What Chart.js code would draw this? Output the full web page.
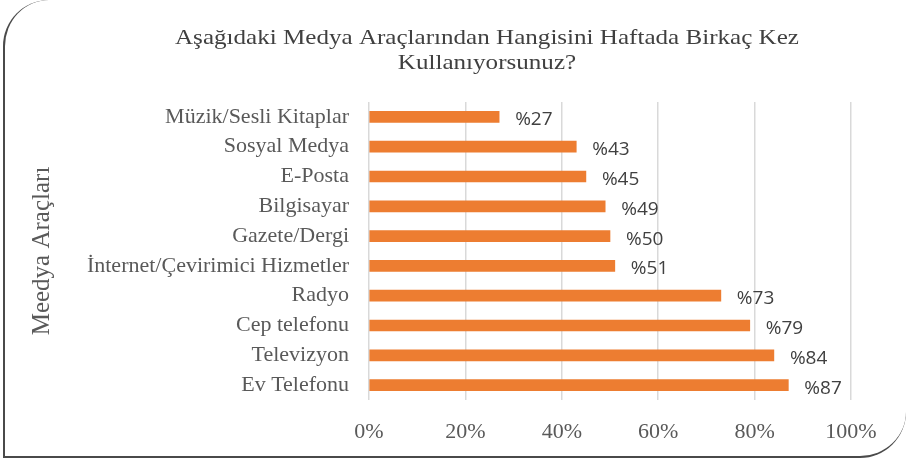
<!DOCTYPE html>
<html>
<head>
<meta charset="utf-8">
<script src="https://cdn.jsdelivr.net/npm/chart.js@4.4.1/dist/chart.umd.min.js"></script>
<style>
    html, body { margin: 0; padding: 0; background: #fff; }
    #wrap { position: relative; width: 907px; height: 464px; overflow: hidden; }
    #frame {
        position: absolute; left: 3px; top: 0; width: 903px; height: 458px;
        border-left: 2px solid #4a4a4a; border-bottom: 2px solid #4a4a4a;
        border-top-left-radius: 46px; border-bottom-right-radius: 46px;
        box-sizing: border-box;
    }
    canvas { position: absolute; left: 0; top: 0; }
</style>
</head>
<body>
<div id="wrap">
    <div id="frame"></div>
    <canvas id="chart" width="907" height="464"></canvas>
</div>
<script>
// chart data
const categories = [
    "Müzik/Sesli Kitaplar", "Sosyal Medya", "E-Posta", "Bilgisayar", "Gazete/Dergi",
    "İnternet/Çevirimici Hizmetler", "Radyo", "Cep telefonu", "Televizyon", "Ev Telefonu"
];
const values = [27, 43, 45, 49, 50, 51, 73, 79, 84, 87];
const xTicks = [0, 20, 40, 60, 80, 100];
const titleLines = ["Aşağıdaki Medya Araçlarından Hangisini Haftada Birkaç Kez", "Kullanıyorsunuz?"];
const axisTitle = "Meedya Araçları";

const serif = "'Liberation Serif', 'Times New Roman', serif";

// title drawn by hand so it can sit off-centre and be a bit wider like the original
const titlePlugin = {
    id: "titleLines",
    afterDraw(chart) {
        let ctx = chart.ctx;
        ctx.save();
        ctx.font = "22px " + serif;
        ctx.fillStyle = "#404040";
        ctx.textAlign = "center";
        ctx.textBaseline = "alphabetic";
        ctx.translate(487, 0);
        ctx.scale(1.14, 1);
        ctx.fillText(titleLines[0], 0, 44);
        ctx.fillText(titleLines[1], 0, 69);
        ctx.restore();
    }
};

const valueLabels = {
    id: "valueLabels",
    afterDatasetsDraw(chart) {
        let ctx = chart.ctx;
        let meta = chart.getDatasetMeta(0);
        ctx.save();
        ctx.font = "19px 'Open Sans', sans-serif";
        ctx.fillStyle = "#404040";
        ctx.textAlign = "left";
        ctx.textBaseline = "middle";
        meta.data.forEach(function (bar, i) {
            ctx.fillText("%" + values[i], bar.x + 16, bar.y + 3);
        });
        ctx.restore();
    }
};

new Chart(document.getElementById("chart"), {
    type: "bar",
    data: {
        labels: categories,
        datasets: [{
            data: values,
            backgroundColor: "#ED7D31",
            barThickness: 11
        }]
    },
    options: {
        indexAxis: "y",
        responsive: false,
        animation: false,
        layout: { padding: { top: 102, right: 56, bottom: 16, left: 3 } },
        plugins: {
            legend: { display: false },
            tooltip: { enabled: false }
        },
        scales: {
            x: {
                min: 0,
                max: 100,
                afterBuildTicks: function (scale) {
                    scale.ticks = xTicks.map(function (v) { return { value: v }; });
                },
                afterFit: function (scale) { scale.height = 48; },
                ticks: {
                    callback: function (v) { return v + "%"; },
                    font: { family: serif, size: 22 },
                    color: "#595959",
                    padding: 19,
                    maxRotation: 0
                },
                grid: { color: "#d9d9d9", lineWidth: 1.5, drawTicks: false },
                border: { display: false }
            },
            y: {
                afterFit: function (scale) { scale.width = 366; },
                ticks: {
                    font: { family: serif, size: 22 },
                    color: "#595959",
                    padding: 20,
                    autoSkip: false
                },
                grid: { display: false, drawTicks: false },
                border: { display: false },
                title: {
                    display: true,
                    text: axisTitle,
                    font: { family: serif, size: 25 },
                    color: "#595959",
                    padding: { top: 24, bottom: 0 }
                }
            }
        }
    },
    plugins: [titlePlugin, valueLabels]
});
</script>
</body>
</html>
